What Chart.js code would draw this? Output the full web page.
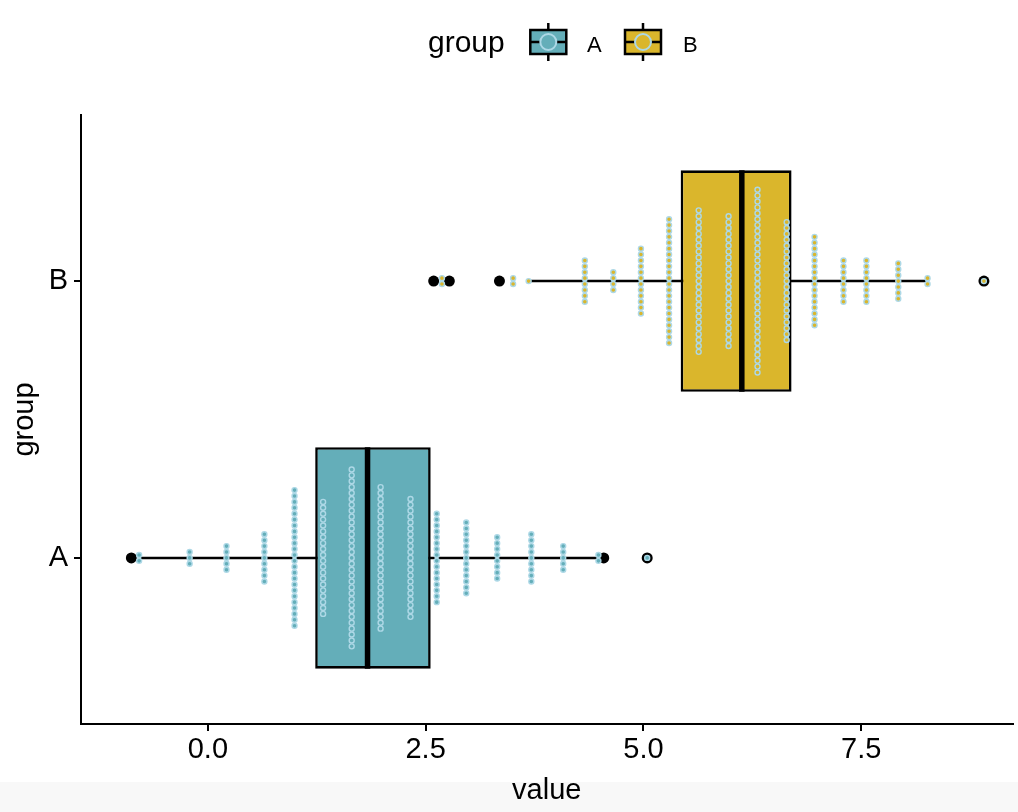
<!DOCTYPE html>
<html>
<head>
<meta charset="utf-8">
<script src="https://cdn.jsdelivr.net/npm/chart.js@4.4.1/dist/chart.umd.min.js"></script>
<style>
html,body{margin:0;padding:0;background:#fff;}
#wrap{width:1018px;height:812px;position:relative;}
</style>
</head>
<body>
<div id="wrap"><canvas id="c" width="1018" height="812"></canvas></div>
<script>
// ---------- data ----------
const GROUPS = ['A', 'B'];
const GROUP_POS = [1, 2];
const COLORS = ['#64AEB9', '#DAB62C'];
const DOT_EDGE = '#ADD8E6';

const Q1 = [1.232, 5.427];
const MEDIAN = [1.833, 6.129];
const Q3 = [2.558, 6.700];
const WHISK_LO = [-0.77, 3.69];
const WHISK_HI = [4.50, 8.25];

const OUTLIERS_A = [-0.878, 4.544, 5.043];
const OUTLIERS_B = [2.592, 2.772, 3.347, 8.908];

// dot-plot columns (bin centre, number of stacked dots)
const DOT_X_A = [-0.789, -0.209, 0.214, 0.649, 0.995, 1.323, 1.651, 1.983, 2.326, 2.627, 2.966, 3.321, 3.713, 4.079, 4.483, 5.043];
const DOT_N_A = [2, 3, 5, 9, 24, 20, 31, 25, 21, 16, 13, 8, 9, 5, 2, 1];
const DOT_X_B = [2.687, 3.504, 3.682, 4.327, 4.654, 4.971, 5.294, 5.634, 5.977, 6.309, 6.644, 6.964, 7.296, 7.559, 7.925, 8.261, 8.908];
const DOT_N_B = [2, 2, 1, 8, 4, 12, 22, 25, 23, 32, 21, 16, 8, 8, 7, 2, 1];

const X_TICKS = [0, 2.5, 5, 7.5];
const X_MIN = -1.456, X_MAX = 9.236;
const Y_MIN = 0.4, Y_MAX = 2.6;

const X_TITLE = 'value';
const Y_TITLE = 'group';
const LEGEND_TITLE = 'group';

// ---------- style constants ----------
const BOX_WIDTH = 0.8;
const DOT_STEP = 0.0213;   // stacking distance between dots (y units)
const FONT = '"Liberation Sans", Arial, Helvetica, sans-serif';

Chart.defaults.font.family = FONT;
Chart.defaults.color = '#000';

// ---------- build datasets ----------
function stackDots(xs, ns, pos) {
  const pts = [];
  xs.forEach((x, i) => {
    const n = ns[i];
    for (let k = 0; k < n; k++) {
      pts.push({x: x, y: pos + (k - (n - 1) / 2) * DOT_STEP});
    }
  });
  return pts;
}

const datasets = [];

// whiskers (under boxes)
GROUPS.forEach((g, i) => {
  datasets.push({
    type: 'line', label: 'whisker ' + g, order: 6,
    data: [{x: WHISK_LO[i], y: GROUP_POS[i]}, {x: WHISK_HI[i], y: GROUP_POS[i]}],
    borderColor: '#000', borderWidth: 2.5, pointRadius: 0, fill: false, tension: 0
  });
});

// boxes
datasets.push({
  type: 'bar', label: 'box', order: 5,
  data: GROUPS.map((g, i) => ({x: [Q1[i], Q3[i]], y: GROUP_POS[i]})),
  backgroundColor: COLORS, borderColor: '#000', borderWidth: 2.6, borderSkipped: false,
  barPercentage: BOX_WIDTH, categoryPercentage: 1
});

// medians
GROUPS.forEach((g, i) => {
  datasets.push({
    type: 'line', label: 'median ' + g, order: 4,
    data: [{x: MEDIAN[i], y: GROUP_POS[i] - BOX_WIDTH / 2}, {x: MEDIAN[i], y: GROUP_POS[i] + BOX_WIDTH / 2}],
    borderColor: '#000', borderWidth: 5.5, pointRadius: 0, fill: false, tension: 0
  });
});

// outliers
datasets.push({
  type: 'scatter', label: 'outliers', order: 3,
  data: OUTLIERS_A.map(v => ({x: v, y: GROUP_POS[0]})).concat(OUTLIERS_B.map(v => ({x: v, y: GROUP_POS[1]}))),
  backgroundColor: '#000', borderWidth: 0, pointRadius: 5.5, pointHoverRadius: 5.5
});

// dots
[[DOT_X_A, DOT_N_A], [DOT_X_B, DOT_N_B]].forEach(([xs, ns], i) => {
  datasets.push({
    type: 'scatter', label: 'dots ' + GROUPS[i], order: 1,
    data: stackDots(xs, ns, GROUP_POS[i]),
    backgroundColor: COLORS[i], borderColor: DOT_EDGE, borderWidth: 1.4,
    pointRadius: 2.5, pointHoverRadius: 2.5
  });
});

// ---------- plugins ----------
const bgPlugin = {
  id: 'bg',
  beforeDraw(chart) {
    const ctx = chart.ctx;
    ctx.save();
    ctx.fillStyle = '#ffffff';
    ctx.fillRect(0, 0, chart.width, chart.height);
    ctx.fillStyle = '#f8f8f8';
    ctx.fillRect(0, 782, chart.width, chart.height - 782);
    ctx.restore();
  }
};

const legendPlugin = {
  id: 'ggLegend',
  afterDraw(chart) {
    const ctx = chart.ctx;
    ctx.save();
    ctx.fillStyle = '#000';
    ctx.textBaseline = 'alphabetic';
    ctx.textAlign = 'left';
    ctx.font = '30px ' + FONT;
    ctx.fillText(LEGEND_TITLE, 428, 52);
    const keyCx = [548.3, 643];
    const labelX = [587, 683];
    const cy = 42;
    GROUPS.forEach((g, i) => {
      const cx = keyCx[i];
      const w = 36, h = 24;
      ctx.strokeStyle = '#000';
      ctx.lineWidth = 2.5;
      // whiskers
      ctx.beginPath();
      ctx.moveTo(cx, cy - h / 2 - 7); ctx.lineTo(cx, cy - h / 2);
      ctx.moveTo(cx, cy + h / 2); ctx.lineTo(cx, cy + h / 2 + 7);
      ctx.stroke();
      // box
      ctx.fillStyle = COLORS[i];
      ctx.fillRect(cx - w / 2, cy - h / 2, w, h);
      ctx.strokeRect(cx - w / 2, cy - h / 2, w, h);
      // median
      ctx.beginPath();
      ctx.moveTo(cx - w / 2, cy); ctx.lineTo(cx + w / 2, cy);
      ctx.stroke();
      // dot
      ctx.beginPath();
      ctx.arc(cx, cy, 8, 0, Math.PI * 2);
      ctx.fillStyle = COLORS[i];
      ctx.fill();
      ctx.strokeStyle = DOT_EDGE;
      ctx.lineWidth = 2;
      ctx.stroke();
      // label
      ctx.fillStyle = '#000';
      ctx.font = '22px ' + FONT;
      ctx.fillText(g, labelX[i], 52);
    });
    ctx.restore();
  }
};

// ---------- chart ----------
new Chart(document.getElementById('c'), {
  type: 'bar',
  data: {datasets: datasets},
  plugins: [bgPlugin, legendPlugin],
  options: {
    indexAxis: 'y',
    responsive: false,
    animation: false,
    events: [],
    layout: {padding: {top: 115, right: 2, bottom: 0, left: 0}},
    plugins: {legend: {display: false}, tooltip: {enabled: false}, title: {display: false}},
    scales: {
      x: {
        type: 'linear', position: 'bottom', min: X_MIN, max: X_MAX, offset: false,
        afterBuildTicks(scale) { scale.ticks = X_TICKS.map(v => ({value: v})); },
        afterFit(scale) { scale.height = 88; },
        ticks: {callback: v => Number(v).toFixed(1), font: {size: 29}, color: '#000', padding: 2, maxRotation: 0, autoSkip: false},
        grid: {display: true, drawOnChartArea: false, drawTicks: true, tickLength: 7, color: '#000', tickColor: '#000', lineWidth: 2, offset: false},
        border: {display: true, color: '#000', width: 2},
        title: {display: true, text: X_TITLE, font: {size: 29}, color: '#000', padding: {top: 0, bottom: 4}}
      },
      y: {
        type: 'linear', position: 'left', min: Y_MIN, max: Y_MAX, offset: false,
        afterBuildTicks(scale) { scale.ticks = GROUP_POS.map(v => ({value: v})); },
        afterFit(scale) { scale.width = 81; },
        ticks: {callback: v => GROUPS[GROUP_POS.indexOf(v)], font: {size: 29}, color: '#000', padding: 6, autoSkip: false},
        grid: {display: true, drawOnChartArea: false, drawTicks: true, tickLength: 7, color: '#000', tickColor: '#000', lineWidth: 2, offset: false},
        border: {display: true, color: '#000', width: 2},
        title: {display: true, text: Y_TITLE, font: {size: 29}, color: '#000', padding: {top: 8, bottom: 0}}
      }
    }
  }
});
</script>
</body>
</html>
